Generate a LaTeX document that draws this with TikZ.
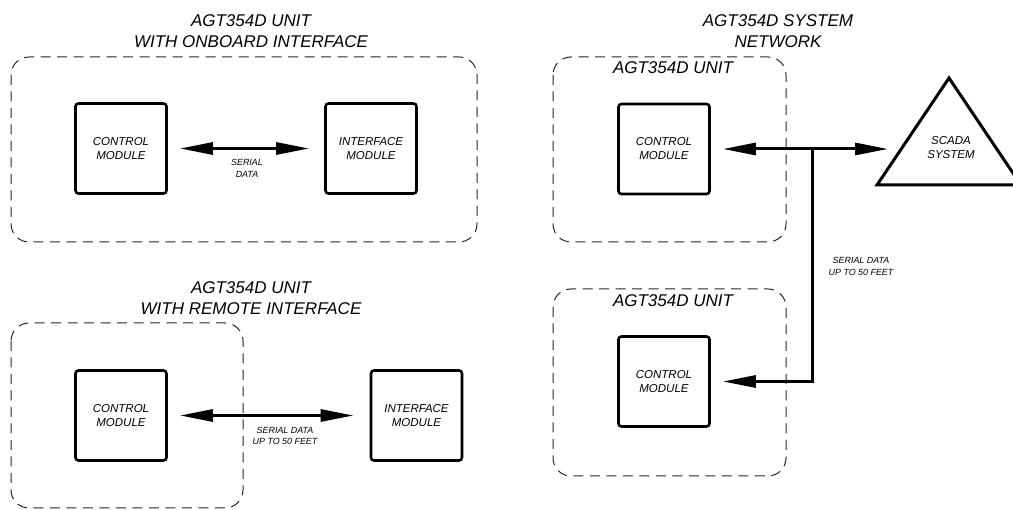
\documentclass[tikz,border=0pt]{standalone}
\usepackage{fontspec}
\setmainfont{Liberation Sans}
\usetikzlibrary{arrows.meta,calc}
\tikzset{
  grp/.style={draw=black!85, line width=1pt, dash pattern=on 10pt off 6.5pt, rounded corners=18pt},
  modbox/.style={draw, line width=2.6pt, rounded corners=3pt, minimum width=91pt, minimum height=90pt, inner sep=0pt, align=center, font=\itshape\fontsize{11.5}{14}\selectfont},
  ttl/.style={align=center, inner sep=0pt, font=\itshape\fontsize{17}{21}\selectfont},
  sml/.style={align=center, inner sep=0pt, font=\itshape\fontsize{8.9}{11.5}\selectfont},
  wire/.style={line width=3pt},
  arr/.style={wire, arrows={-Triangle[length=33pt,width=12pt]}},
  darr/.style={wire, arrows={Triangle[length=33pt,width=12pt]-Triangle[length=33pt,width=12pt]}}
}
\begin{document}
\begin{tikzpicture}[x=1pt,y=-1pt]
\useasboundingbox (0,0) rectangle (1013,510);
\clip (0,0) rectangle (1013,510);
% ---------- group 1: onboard interface ----------
\node[ttl] (t1) at (251,31.5) {AGT354D UNIT\\WITH ONBOARD INTERFACE};
\draw[grp] (11,57) rectangle (477,242);
\node[modbox] (c1) at (121,148.5) {CONTROL\\MODULE};
\node[modbox] (i1) at (371,148.5) {INTERFACE\\MODULE};
\draw[darr, shorten <=12pt, shorten >=15pt] (c1) -- (i1);
\node[sml] (s1) at (247,168.5) {SERIAL\\DATA};
% ---------- group 2: remote interface ----------
\node[ttl] (t2) at (251,298) {AGT354D UNIT\\WITH REMOTE INTERFACE};
\draw[grp] (11,323) rectangle (243,508);
\node[modbox] (c2) at (121,415.5) {CONTROL\\MODULE};
\node[modbox] (i2) at (416.5,415.5) {INTERFACE\\MODULE};
\draw[darr, shorten <=12pt, shorten >=16pt] (c2) -- (i2);
\node[sml] (s2) at (285,436) {SERIAL DATA\\UP TO 50 FEET};
% ---------- group 3: system network ----------
\node[ttl] (t3) at (778,31) {AGT354D SYSTEM\\NETWORK};
\draw[grp] (553,57) rectangle (786,242);
\node[ttl] (u3) at (673,68) {AGT354D UNIT};
\node[modbox] (c3) at (664,149) {CONTROL\\MODULE};
\coordinate (ta) at (949,78);
\coordinate (tl) at (877,185);
\coordinate (tr) at (1021,185);
\draw[line width=3pt, line join=miter] (ta) -- (tl) -- (tr) -- cycle;
\node[align=center, inner sep=0pt, font=\itshape\fontsize{11.5}{14}\selectfont] (scada) at (951,148) {SCADA\\SYSTEM};
\coordinate (tin) at (888,149);
\coordinate (jn) at (812,149);
\draw[darr, shorten <=12pt] (c3) -- (tin);
% ---------- group 4: second unit ----------
\draw[grp] (553,289) rectangle (786,476);
\node[ttl] (u4) at (673,301) {AGT354D UNIT};
\node[modbox] (c4) at (664,381.5) {CONTROL\\MODULE};
\draw[arr, shorten >=12pt] (jn) |- (c4);
\node[sml] (s4) at (861,266.5) {SERIAL DATA\\UP TO 50 FEET};
\end{tikzpicture}
\end{document}
